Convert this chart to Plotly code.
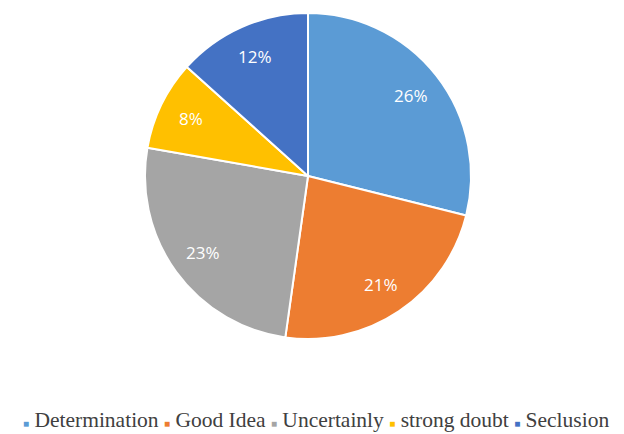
import math
import plotly.graph_objects as go

categories = ["Determination", "Good Idea", "Uncertainly", "strong doubt", "Seclusion"]
values = [26, 21, 23, 8, 12]
labels_text = ["26%", "21%", "23%", "8%", "12%"]
colors = ["#5B9BD5", "#ED7D31", "#A5A5A5", "#FFC000", "#4472C4"]

W, H = 624, 434
cx, cy, r = 308, 176, 163

fig = go.Figure(go.Pie(
    labels=categories,
    values=values,
    textinfo="none",
    marker=dict(colors=colors, line=dict(color="white", width=2)),
    sort=False,
    direction="clockwise",
    rotation=0,
    hole=0,
    showlegend=False,
    domain=dict(x=[(cx - r) / W, (cx + r) / W], y=[(H - cy - r) / H, (H - cy + r) / H]),
))

# slice labels placed at 0.8 radius along each slice's mid-angle
total = sum(values)
cum = 0
for v, t in zip(values, labels_text):
    mid = (cum + v / 2) / total * 2 * math.pi
    cum += v
    lx = cx + 0.8 * r * math.sin(mid)
    ly = cy - 0.8 * r * math.cos(mid)
    fig.add_annotation(
        x=lx / W, y=(H - ly) / H, xref="paper", yref="paper",
        text=t, showarrow=False,
        font=dict(family="Open Sans", size=17, color="white"),
        xanchor="center", yanchor="middle",
    )

legend_parts = []
for c, name in zip(colors, categories):
    legend_parts.append(f"<span style='color:{c};font-size:10px'>■</span> {name}")
legend_text = " ".join(legend_parts)

fig.add_annotation(
    x=0.506, y=(H - 420) / H, xref="paper", yref="paper",
    text=legend_text, showarrow=False,
    font=dict(family="Liberation Serif", size=21.5, color="#404040"),
    xanchor="center", yanchor="middle",
)

fig.update_layout(
    width=W, height=H,
    margin=dict(l=0, r=0, t=0, b=0),
    paper_bgcolor="white",
    plot_bgcolor="white",
)

fig.write_html("out.html")
